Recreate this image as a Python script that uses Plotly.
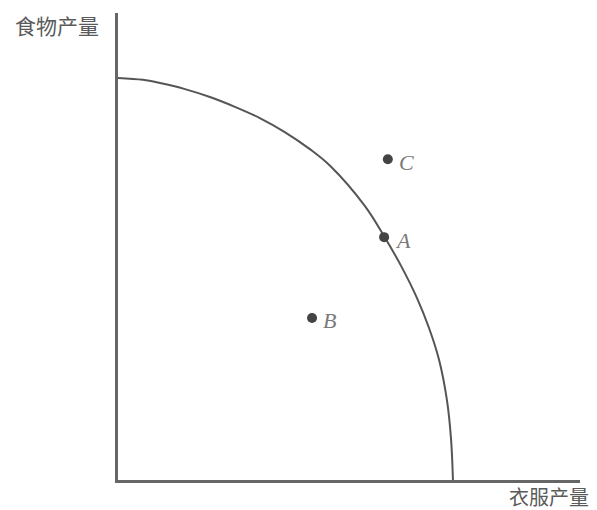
import plotly.graph_objects as go

# Production possibility frontier
curve_x = [0, 5.4, 9.1, 14.5, 19.9, 25.3, 30.7, 36.1, 41.6, 45.9, 53.5, 57.6,
           61.3, 64.7, 67.3, 69.5, 71.2, 72.1, 72.5]
curve_y = [86.1, 85.7, 85.0, 83.7, 82.0, 79.9, 77.5, 74.5, 70.8, 67.3, 58.6, 52.2,
           45.8, 39.0, 32.6, 25.7, 17.1, 8.6, 0]

point_names = ["C", "A", "B"]
point_x = [58.4, 57.6, 42.0]
point_y = [68.7, 52.0, 34.7]

y_title = "食物产量"
x_title = "衣服产量"

fig = go.Figure()
fig.add_trace(go.Scatter(x=curve_x, y=curve_y, mode="lines",
                         line=dict(color="#555555", width=2, shape="spline", smoothing=1.0),
                         hoverinfo="skip", showlegend=False))
fig.add_trace(go.Scatter(x=point_x, y=point_y, mode="markers",
                         marker=dict(color="#444444", size=10),
                         showlegend=False))

for n, px, py in zip(point_names, point_x, point_y):
    fig.add_annotation(x=px, y=py, text="<i>" + n + "</i>", showarrow=False,
                       xanchor="left", xshift=9, yshift=-3,
                       font=dict(family="Liberation Serif", size=22, color="#7a7a7a"))

fig.add_annotation(xref="paper", yref="paper", x=-0.037, y=0.974, text=y_title,
                   showarrow=False, xanchor="right", yanchor="middle",
                   font=dict(family="Noto Sans CJK SC", size=21, color="#5a5a5a"))
fig.add_annotation(xref="paper", yref="paper", x=0.933, y=-0.036, text=x_title,
                   showarrow=False, xanchor="center", yanchor="middle",
                   font=dict(family="Noto Sans CJK SC", size=20, color="#5a5a5a"))

# page body adds an 8px offset; compensate so plot area sits at 118..580 x 13..480
fig.update_layout(
    width=589, height=502,
    margin=dict(l=110, r=17, t=5, b=30),
    paper_bgcolor="white", plot_bgcolor="white",
    xaxis=dict(range=[0, 100], showline=True, linecolor="#666666", linewidth=3,
               showgrid=False, zeroline=False, showticklabels=False, ticks=""),
    yaxis=dict(range=[0, 100], showline=True, linecolor="#666666", linewidth=3,
               showgrid=False, zeroline=False, showticklabels=False, ticks=""),
)

fig.write_html("out.html")
